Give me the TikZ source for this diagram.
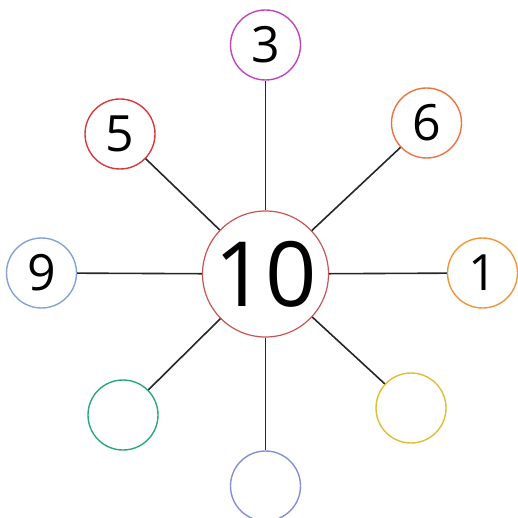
\documentclass[tikz,border=0pt]{standalone}
\usepackage{fontspec}
\setmainfont{Open Sans}
\usetikzlibrary{positioning}
\definecolor{hubred}{rgb}{0.78,0.33,0.33}
\definecolor{plum}{rgb}{0.75,0.27,0.75}
\definecolor{rosered}{rgb}{0.86,0.22,0.24}
\definecolor{tangerine}{rgb}{0.93,0.45,0.25}
\definecolor{amberorange}{rgb}{0.95,0.58,0.22}
\definecolor{skyblue}{rgb}{0.52,0.63,0.84}
\definecolor{jade}{rgb}{0.16,0.66,0.48}
\definecolor{mustard}{rgb}{0.87,0.75,0.2}
\definecolor{periwinkle}{rgb}{0.52,0.56,0.84}
\tikzset{
  hub/.style={
    circle,
    draw=hubred,
    line width=1.2pt,
    minimum size=126pt,
    inner sep=0pt,
    font=\fontsize{90}{90}\selectfont
  },
  leaf/.style={
    circle,
    line width=1.4pt,
    minimum size=70pt,
    inner sep=0pt,
    font=\fontsize{50}{50}\selectfont
  },
  spoke/.style={
    line width=1.6pt,
    black!85
  }
}

\begin{document}
\begin{tikzpicture}[x=1pt,y=-1pt]
\useasboundingbox (0,0) rectangle (517,518);
\node[hub] (ten) at (265.5,274) {10};
\node[leaf,draw=plum] (three) at (265.5,45) {3};
\node[leaf,draw=rosered] (five) at (120,134) {5};
\node[leaf,draw=tangerine] (six) at (426.5,123) {6};
\node[leaf,draw=skyblue] (nine) at (41.5,273) {9};
\node[leaf,draw=amberorange] (one) at (482.5,273) {1};
\node[leaf,draw=jade] (sw) at (123,415) {};
\node[leaf,draw=mustard] (se) at (411,408) {};
\node[leaf,draw=periwinkle] (south) at (265.5,486) {};
\foreach \n in {three,five,six,nine,one,sw,se,south}
  \draw[spoke] (ten) -- (\n);
\end{tikzpicture}
\end{document}
